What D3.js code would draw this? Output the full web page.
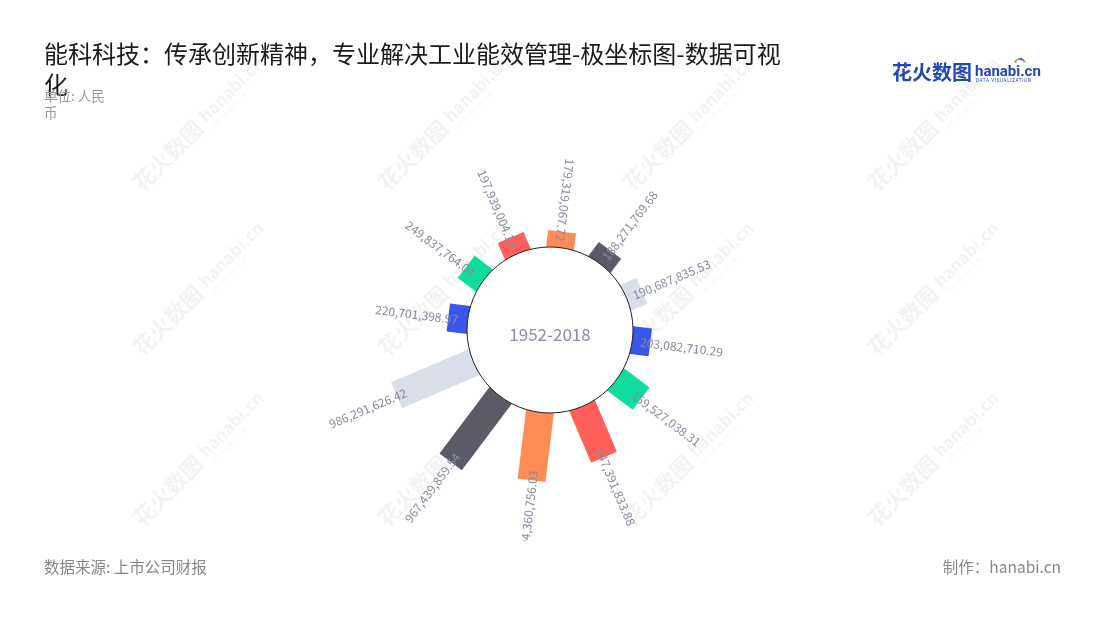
<!DOCTYPE html>
<html><head><meta charset="utf-8">
<script src="https://cdn.jsdelivr.net/npm/d3@7/dist/d3.min.js"></script>
<style>body{margin:0;background:#fff}svg{display:block}</style>
</head><body>
<svg id="c" width="1100" height="620"></svg>
<script>
const categories = ["1","2","3","4","5","6","7","8","9","10","11","12"];
const values = [179319067.72, 188271769.68, 190687835.53, 203082710.29, 359527038.31, 647391833.88,
                804360756.03, 967439859.54, 986291626.42, 220701398.97, 249837764.04, 197939004.13];
const colors = ["#FF8C55","#5A5B66","#D9DEEA","#3A56E8","#0FDD9E","#FF5E5A"];
const radialTicks = [0, 1000000000];
const centerLabel = "1952-2018";
const titleLines = ["能科科技：传承创新精神，专业解决工业能效管理-极坐标图-数据可视","化"];
const unitLines = ["单位: 人民","币"];
const sourceText = "数据来源: 上市公司财报";
const makerText = "制作：hanabi.cn";

const svg = d3.select("#c");
const FONT = "'Noto Sans CJK SC','Noto Sans',sans-serif";
const cx = 550, cy = 330, innerR = 83;

// watermarks
const wmX = [185, 430, 675, 920], wmY = [150, 315, 485];
const wm = svg.append("g").attr("opacity", 0.05);
wmY.forEach(y => wmX.forEach(x => {
  const g = wm.append("g").attr("transform", `translate(${x},${y}) rotate(-45)`);
  g.append("text").attr("x", -60).attr("y", 0).attr("font-family", FONT).attr("font-weight", "bold")
    .attr("font-size", 22).attr("fill", "#000").text("花火数图");
  g.append("text").attr("x", 34).attr("y", -4).attr("font-family", FONT).attr("font-weight", "bold")
    .attr("font-size", 17).attr("fill", "#000").text("hanabi.cn");
  g.append("text").attr("x", 35).attr("y", 5).attr("font-family", FONT)
    .attr("font-size", 5).attr("fill", "#000").text("DATA VISUALIZATION");
}));

// title
svg.append("g").selectAll("text").data(titleLines).join("text")
  .attr("x", 44).attr("y", (d, i) => 63 + i * 31)
  .attr("font-family", FONT).attr("font-size", 24).attr("fill", "#1a1a1a").text(d => d);
svg.append("g").selectAll("text").data(unitLines).join("text")
  .attr("x", 44).attr("y", (d, i) => 101 + i * 17)
  .attr("font-family", FONT).attr("font-size", 13.5).attr("fill", "#999").text(d => d);

// logo
const logo = svg.append("g");
logo.append("text").attr("x", 892).attr("y", 80).attr("font-family", FONT).attr("font-weight", "bold")
  .attr("font-size", 20).attr("fill", "#2447b8").text("花火数图");
logo.append("text").attr("x", 975).attr("y", 76).attr("font-family", "Roboto, sans-serif").attr("font-weight", "bold")
  .attr("font-size", 15).attr("fill", "#2447b8").text("hanabi.cn");
logo.append("text").attr("x", 976).attr("y", 82).attr("font-family", "Roboto, sans-serif")
  .attr("font-size", 4.6).attr("letter-spacing", 0.6).attr("fill", "#2447b8").text("DATA VISUALIZATION");
const dotC = ["#ff5e5a","#ffb02e","#0fdd9e","#3a56e8","#a05cff","#ff8c55"];
dotC.forEach((c, i) => {
  const a = (-150 + i * 24) * Math.PI / 180;
  logo.append("circle").attr("cx", 1020 + 5 * Math.cos(a)).attr("cy", 64 + 5 * Math.sin(a))
    .attr("r", 1.3).attr("fill", c);
});

// footer
svg.append("text").attr("x", 44).attr("y", 573).attr("font-family", FONT).attr("font-size", 15.5)
  .attr("fill", "#888").text(sourceText);
svg.append("text").attr("x", 1061).attr("y", 573).attr("text-anchor", "end").attr("font-family", FONT)
  .attr("font-size", 15.5).attr("fill", "#888").text(makerText);

// chart
svg.append("clipPath").attr("id", "clip").append("rect").attr("x", 0).attr("y", 0).attr("width", 1100).attr("height", 541);
const chart = svg.append("g").attr("clip-path", "url(#clip)")
  .append("g").attr("transform", `translate(${cx},${cy})`);

const angle = d3.scaleBand().domain(categories).range([-8, 352]);
const r = d3.scaleLinear().domain(radialTicks).range([84, 84 + 83.8]);
const barW = 28;
const theta = c => angle(c) + angle.bandwidth() / 2;

chart.selectAll("rect.bar").data(categories).join("rect").attr("class", "bar")
  .attr("transform", c => `rotate(${theta(c)})`)
  .attr("x", -barW / 2).attr("width", barW)
  .attr("y", (c, i) => -r(values[i]))
  .attr("height", (c, i) => r(values[i]) - 40)
  .attr("fill", (c, i) => colors[i % colors.length]);

chart.append("circle").attr("r", innerR).attr("fill", "#fff").attr("stroke", "#222").attr("stroke-width", 1);
chart.append("text").attr("text-anchor", "middle").attr("dominant-baseline", "central").attr("y", 3)
  .attr("font-family", FONT).attr("font-size", 17).attr("fill", "#8a8ea0").text(centerLabel);

const fmt = v => v.toLocaleString("en-US", {minimumFractionDigits: 2, maximumFractionDigits: 2});
chart.selectAll("text.lab").data(categories).join("text").attr("class", "lab")
  .each(function(c, i) {
    const t = theta(c), rad = t * Math.PI / 180;
    const rr = r(values[i]) - 10;
    const x = rr * Math.sin(rad), y = -rr * Math.cos(rad);
    const flip = Math.sin(rad) < 0.13;
    d3.select(this)
      .attr("transform", `translate(${x},${y}) rotate(${flip ? t + 90 : t - 90})`)
      .attr("text-anchor", flip ? "end" : "start");
  })
  .attr("dominant-baseline", "central")
  .attr("font-family", FONT).attr("font-size", 12).attr("fill", "#868a9d")
  .text((c, i) => fmt(values[i]));
</script>
</body></html>
